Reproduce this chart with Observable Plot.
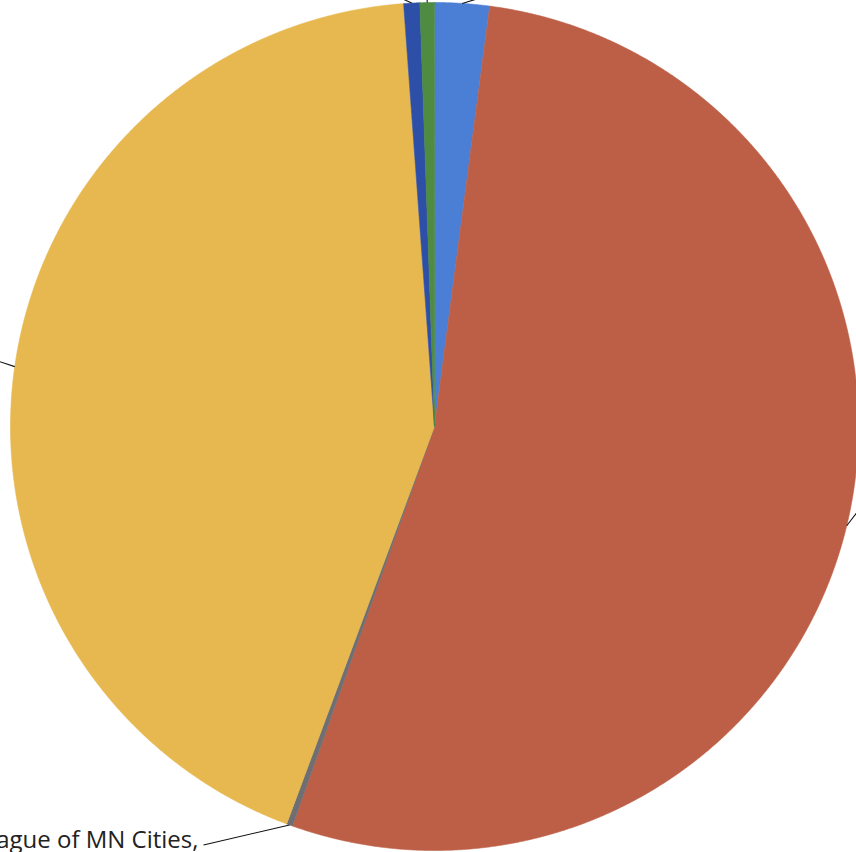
<!DOCTYPE html>
<html>
<head>
<meta charset="utf-8">
<script src="https://cdn.jsdelivr.net/npm/d3@7"></script>
<script src="https://cdn.jsdelivr.net/npm/@observablehq/plot@0.6"></script>
<style>
  html, body { margin: 0; padding: 0; background: #fff; }
  #chart svg { display: block; }
</style>
</head>
<body>
<div id="chart"></div>
<script>
// Slices, clockwise from 12 o'clock, as percentage shares
const categories = ["Category 1", "Category 2", "League of MN Cities", "Category 4", "Category 5", "Category 6"];
const shares = [2.08, 53.36, 0.23, 43.17, 0.61, 0.55];
const sliceColors = ["#4b7fd6", "#bd5f47", "#6e6e73", "#e6b84f", "#2d4fa8", "#4f8b40"];
// Data-label text shown next to its leader line (others fall outside the frame)
const labelTexts = ["", "", "League of MN Cities,", "", "", ""];

// Layout (pixels)
const W = 856, H = 852;
const CX = 434, CY = 426, R = 424;
// Leader-line tip offsets from each slice's outer edge, in pixels
const leaderTips = [[20, -6], [16, -21], [-86, 20], [-27, -9], [-13, -6], [0, -8]];

const rows = categories.map((name, i) => ({name, value: shares[i], color: sliceColors[i], i}));
const arcs = d3.pie().sort(null).value(d => d.value).startAngle(0).endAngle(2 * Math.PI)(rows);

// Polygon outline of each slice in unit-radius coordinates (y up)
const step = Math.PI / 900;
const outline = [];
for (const a of arcs) {
  const name = a.data.name;
  outline.push({name, x: 0, y: 0});
  const n = Math.max(2, Math.ceil((a.endAngle - a.startAngle) / step));
  for (let k = 0; k <= n; ++k) {
    const t = a.startAngle + (a.endAngle - a.startAngle) * k / n;
    outline.push({name, x: Math.sin(t), y: Math.cos(t)});
  }
}

// Leader lines from slice mid-angle on the rim out toward the labels
const leaders = arcs.map(a => {
  const m = (a.startAngle + a.endAngle) / 2;
  const [dx, dy] = leaderTips[a.data.i];
  const x1 = Math.sin(m), y1 = Math.cos(m);
  return {name: a.data.name, label: labelTexts[a.data.i], x1, y1, x2: x1 + dx / R, y2: y1 - dy / R};
});

const chart = Plot.plot({
  width: W,
  height: H,
  margin: 0,
  x: {domain: [(0 - CX) / R, (W - CX) / R], axis: null},
  y: {domain: [(CY - H) / R, CY / R], axis: null},
  color: {domain: categories, range: sliceColors},
  style: {background: "white"},
  marks: [
    Plot.line(outline, {
      x: "x", y: "y", z: "name",
      fill: "name", stroke: "name", strokeWidth: 0.6,
      curve: "linear-closed"
    }),
    Plot.link(leaders, {
      x1: "x1", y1: "y1", x2: "x2", y2: "y2",
      stroke: "#111", strokeWidth: 1.1
    }),
    Plot.text(leaders.filter(d => d.label), {
      x: "x2", y: "y2", text: "label",
      textAnchor: "end", dx: -5, dy: -5,
      fontSize: 24, fontFamily: "Open Sans", fill: "#222"
    })
  ]
});

document.getElementById("chart").appendChild(chart);
</script>
</body>
</html>
